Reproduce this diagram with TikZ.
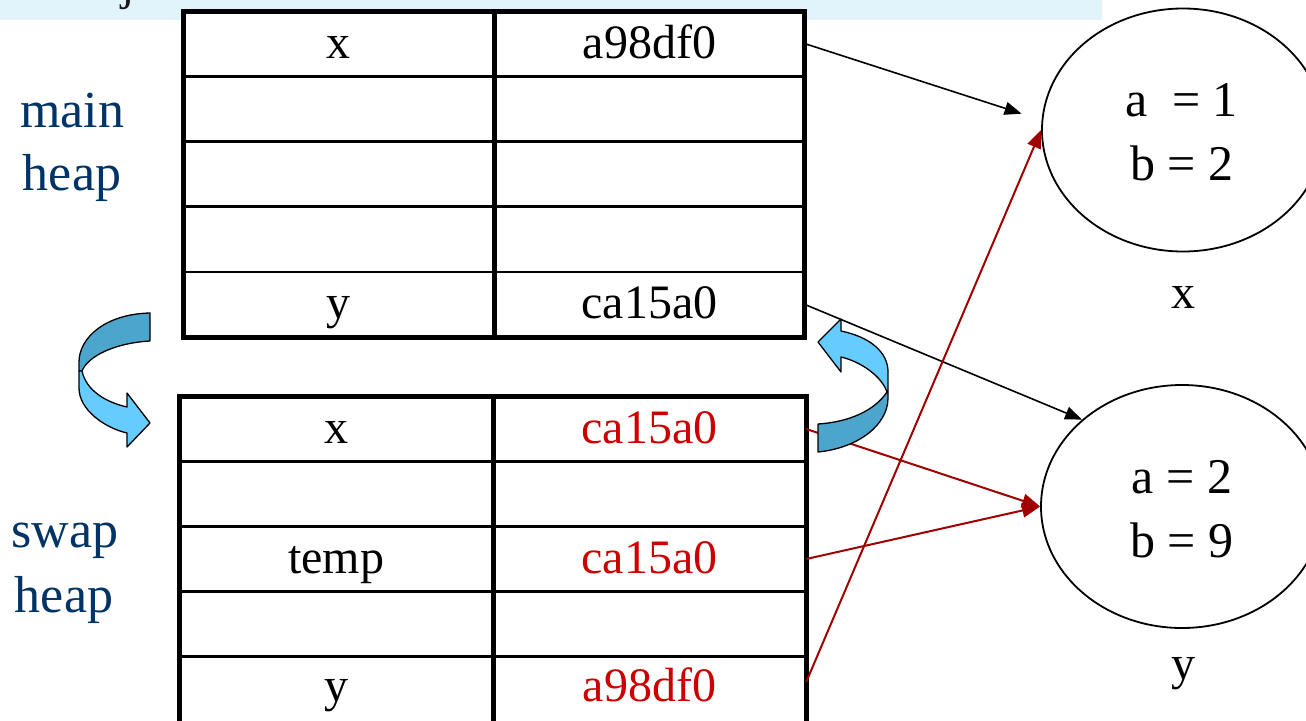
\documentclass[tikz,border=0pt]{standalone}
\usepackage{fontspec}
\setmainfont{Liberation Serif}
\usetikzlibrary{arrows.meta,shapes.geometric}
\definecolor{bandblue}{HTML}{E1F4FB}
\definecolor{heapblue}{HTML}{003366}
\definecolor{txtred}{HTML}{CC0000}
\definecolor{linered}{HTML}{A00000}
\definecolor{arrlight}{HTML}{66CCFF}
\definecolor{arrdark}{HTML}{4BA5CC}
\begin{document}
\begin{tikzpicture}[x=1pt,y=-1pt,
  cell/.style={minimum height=65pt, inner sep=0pt, text height=39pt, text depth=10pt,
    font=\fontsize{48}{56}\selectfont},
  redtxt/.style={text=txtred},
  frame/.style={line width=5pt},
  rowline/.style={line width=2.6pt},
  lbl/.style={anchor=base, text=heapblue, font=\fontsize{52}{60}\selectfont},
  etxt/.style={anchor=base, font=\fontsize{50}{58}\selectfont},
  obj/.style={ellipse, draw, line width=1.8pt, minimum width=282pt, minimum height=243pt, inner sep=0pt},
  conn/.style={line width=1.6pt, -{Triangle[length=17pt,width=13pt]}},
  rconn/.style={line width=2pt, draw=linered, -{Triangle[length=18pt,width=14pt]}, color=linered},
  ribbon/.style={draw=black, line width=1.3pt, line join=round}
]
\useasboundingbox (0,0) rectangle (1306,720);
\fill[white] (0,0) rectangle (1306,720);
% top band
\fill[bandblue] (0,0) rectangle (1102,20);
\node[anchor=base, font=\fontsize{48}{56}\selectfont, text=black!90] (jchar) at (128,-1) {j};

% main heap table
\fill[white] (183,11) rectangle (804.5,337);
\foreach \i/\k/\v in {1/x/a98df0,2//,3//,4//,5/y/ca15a0}{
  \node[cell, minimum width=311pt] (m\i k) at (338.75,{11+65.2*(\i-0.5)}) {\k};
  \node[cell, minimum width=310pt] (m\i v) at (649.5,{11+65.2*(\i-0.5)}) {\v};
}
\foreach \i in {1,2,3,4}{
  \draw[rowline] (183,{11+65.2*\i}) -- (804.5,{11+65.2*\i});
}
\draw[frame] (494.5,11) -- (494.5,337);
\draw[frame] (183,11) rectangle (804.5,337);

% swap heap table
\fill[white] (179,396.5) rectangle (806,740);
\node[cell, minimum width=314pt] (s1k) at (336,429) {x};
\node[cell, minimum width=313pt, redtxt] (s1v) at (649.5,429) {ca15a0};
\node[cell, minimum width=314pt] (s2k) at (336,494) {};
\node[cell, minimum width=313pt] (s2v) at (649.5,494) {};
\node[cell, minimum width=314pt] (s3k) at (336,559) {temp};
\node[cell, minimum width=313pt, redtxt] (s3v) at (649.5,559) {ca15a0};
\node[cell, minimum width=314pt] (s4k) at (336,624) {};
\node[cell, minimum width=313pt] (s4v) at (649.5,624) {};
\node[cell, minimum width=314pt] (s5k) at (336,687) {y};
\node[cell, minimum width=313pt, redtxt] (s5v) at (649.5,687) {a98df0};
\foreach \i in {1,2,3,4}{
  \draw[rowline] (179,{396.5+65*\i}) -- (806,{396.5+65*\i});
}
\draw[frame] (493,396.5) -- (493,740);
\draw[frame] (179,740) -- (179,396.5) -- (806,396.5) -- (806,740);

% labels
\node[lbl] (mainl) at (72,127) {main};
\node[lbl] (mainh) at (72,190) {heap};
\node[lbl] (swapl) at (65,547) {swap};
\node[lbl] (swaph) at (64,612) {heap};

% objects
\node[obj] (e1) at (1183,130) {};
\node[obj] (e2) at (1182,506.5) {};
\node[etxt] (e1a) at (1181.5,116) {a~~= 1};
\node[etxt] (e1b) at (1182,180) {b = 2};
\node[etxt] (e2a) at (1182,493) {a = 2};
\node[etxt] (e2b) at (1182,557) {b = 9};
\node[anchor=base, font=\fontsize{48}{56}\selectfont] (xl) at (1183,308) {x};
\node[anchor=base, font=\fontsize{48}{56}\selectfont] (yl) at (1183,679) {y};

% connectors
\draw[conn, shorten >=21pt] (m1v.east) -- (e1.176);
\draw[conn] (m5v.east) -- (e2.139);
\draw[rconn] (s1v.east) -- (e2.west);
\draw[rconn] (s3v.east) -- (e2.west);
\draw[rconn] ([yshift=5pt]s5v.east) -- (e1.west);

% left curved arrow
\filldraw[ribbon, fill=arrdark] (150,313) .. controls (105,314) and (79,338) .. (79,362) -- (79,371) -- (82,371)
  .. controls (88,356) and (115,343) .. (150,341) -- cycle;
\filldraw[ribbon, fill=arrlight] (79,371) -- (79,388) .. controls (79,410) and (105,428) .. (127,433)
  -- (127,447) -- (150,423) -- (127,393) -- (127,407) .. controls (105,402) and (86,390) .. (82,371) -- cycle;

% right curved arrow
\filldraw[ribbon, fill=arrlight] (841,331) .. controls (870,337) and (888,352) .. (888,372) -- (888,392) -- (887,392)
  .. controls (882,377) and (862,362) .. (841,357) -- (841,372) -- (818,342) -- (841,319) -- cycle;
\filldraw[ribbon, fill=arrdark] (818,424) .. controls (850,422) and (875,410) .. (887,392) -- (888,392) -- (888,398)
  .. controls (888,425) and (858,448) .. (818,452) -- cycle;
\end{tikzpicture}
\end{document}
